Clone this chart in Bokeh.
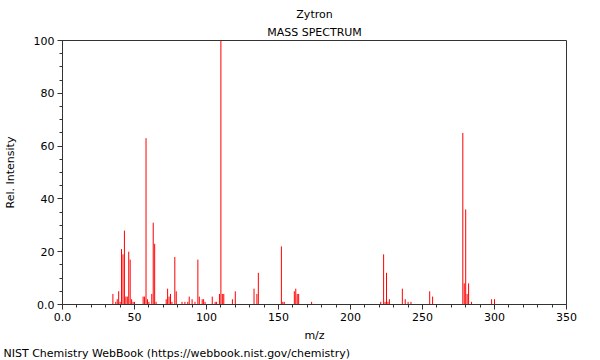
from bokeh.plotting import figure
from bokeh.models import Range1d, SingleIntervalTicker, Title, ColumnDataSource
from bokeh.embed import file_html
from bokeh.resources import INLINE

# ---- data ----
mz = [35, 37, 38, 39, 40, 41, 42, 43, 44, 45, 46, 47, 48, 49, 50,
      56, 57, 58, 59, 60, 62, 63, 64, 65,
      72, 73, 74, 75, 76, 78, 79, 83, 85, 87, 88, 90, 92, 94, 95, 97, 98, 99,
      104, 106, 107, 109, 110, 111, 112, 118, 120, 133, 135, 136,
      152, 153, 154, 161, 162, 163, 164, 173,
      221, 223, 224, 225, 226, 227, 236, 238, 240, 242, 255, 257,
      278, 279, 280, 281, 282, 284, 298, 300]
intensity = [4, 1, 2, 5, 1, 21, 19, 28, 3, 3, 20, 17, 2, 1, 1,
             3, 3, 63, 2, 1, 4, 31, 23, 1,
             2, 6, 3, 4, 1, 18, 5, 1, 1, 1, 3, 2, 1, 17, 3, 2, 2, 1,
             3, 1, 1, 4, 100, 4, 4, 2, 5, 6, 4, 12,
             22, 1, 1, 5, 6, 4, 4, 1,
             1, 19, 1, 12, 1, 2, 6, 2, 1, 1, 5, 3,
             65, 8, 36, 4, 8, 1, 2, 2]
compound = "Zytron"
subtitle = "MASS SPECTRUM"
x_label = "m/z"
y_label = "Rel. Intensity"
footer = "NIST Chemistry WebBook (https://webbook.nist.gov/chemistry)"

FONT = "DejaVu Sans"
AX = "#333333"

src = ColumnDataSource(dict(mz=mz, zero=[0] * len(mz), inten=intensity))

p = figure(width=600, height=360, output_backend="svg", toolbar_location=None,
           x_range=Range1d(0, 350), y_range=Range1d(0, 100),
           min_border_left=62, min_border_right=34, min_border_top=40,
           min_border_bottom=56)

p.segment(x0="mz", y0="zero", x1="mz", y1="inten", source=src,
          line_color="#ff0000", line_width=1)

p.xgrid.visible = False
p.ygrid.visible = False
p.outline_line_color = AX
p.outline_line_width = 1
p.background_fill_color = "white"
p.border_fill_color = "white"

p.xaxis.ticker = SingleIntervalTicker(interval=50, num_minor_ticks=5)
p.yaxis.ticker = SingleIntervalTicker(interval=20, num_minor_ticks=4)
p.xaxis.major_label_overrides = {0: "0.0"}
p.yaxis.major_label_overrides = {0: "0.0"}

for ax in (p.xaxis[0], p.yaxis[0]):
    ax.axis_line_color = AX
    ax.major_tick_line_color = AX
    ax.minor_tick_line_color = AX
    ax.major_tick_out = 5
    ax.major_tick_in = 0
    ax.minor_tick_out = 3
    ax.minor_tick_in = 0
    ax.major_label_standoff = 3
    ax.major_label_text_font = FONT
    ax.major_label_text_font_size = "11px"
    ax.major_label_text_color = "black"
    ax.axis_label_text_font = FONT
    ax.axis_label_text_font_size = "11px"
    ax.axis_label_text_font_style = "normal"
    ax.axis_label_text_color = "black"

p.xaxis.axis_label = x_label
p.yaxis.axis_label = y_label
p.xaxis.axis_label_standoff = 5
p.yaxis.axis_label_standoff = 14

p.add_layout(Title(text=subtitle, align="center", text_font=FONT,
                   text_font_size="11px", text_font_style="normal",
                   text_color="black", standoff=3), "above")
p.add_layout(Title(text=compound, align="center", text_font=FONT,
                   text_font_size="11px", text_font_style="normal",
                   text_color="black", standoff=4), "above")
p.add_layout(Title(text=footer, align="left", text_font=FONT,
                   text_font_size="11px", text_font_style="normal",
                   text_color="black", standoff=0, offset=-59), "below")

open("out.html", "w").write(file_html(p, INLINE))
